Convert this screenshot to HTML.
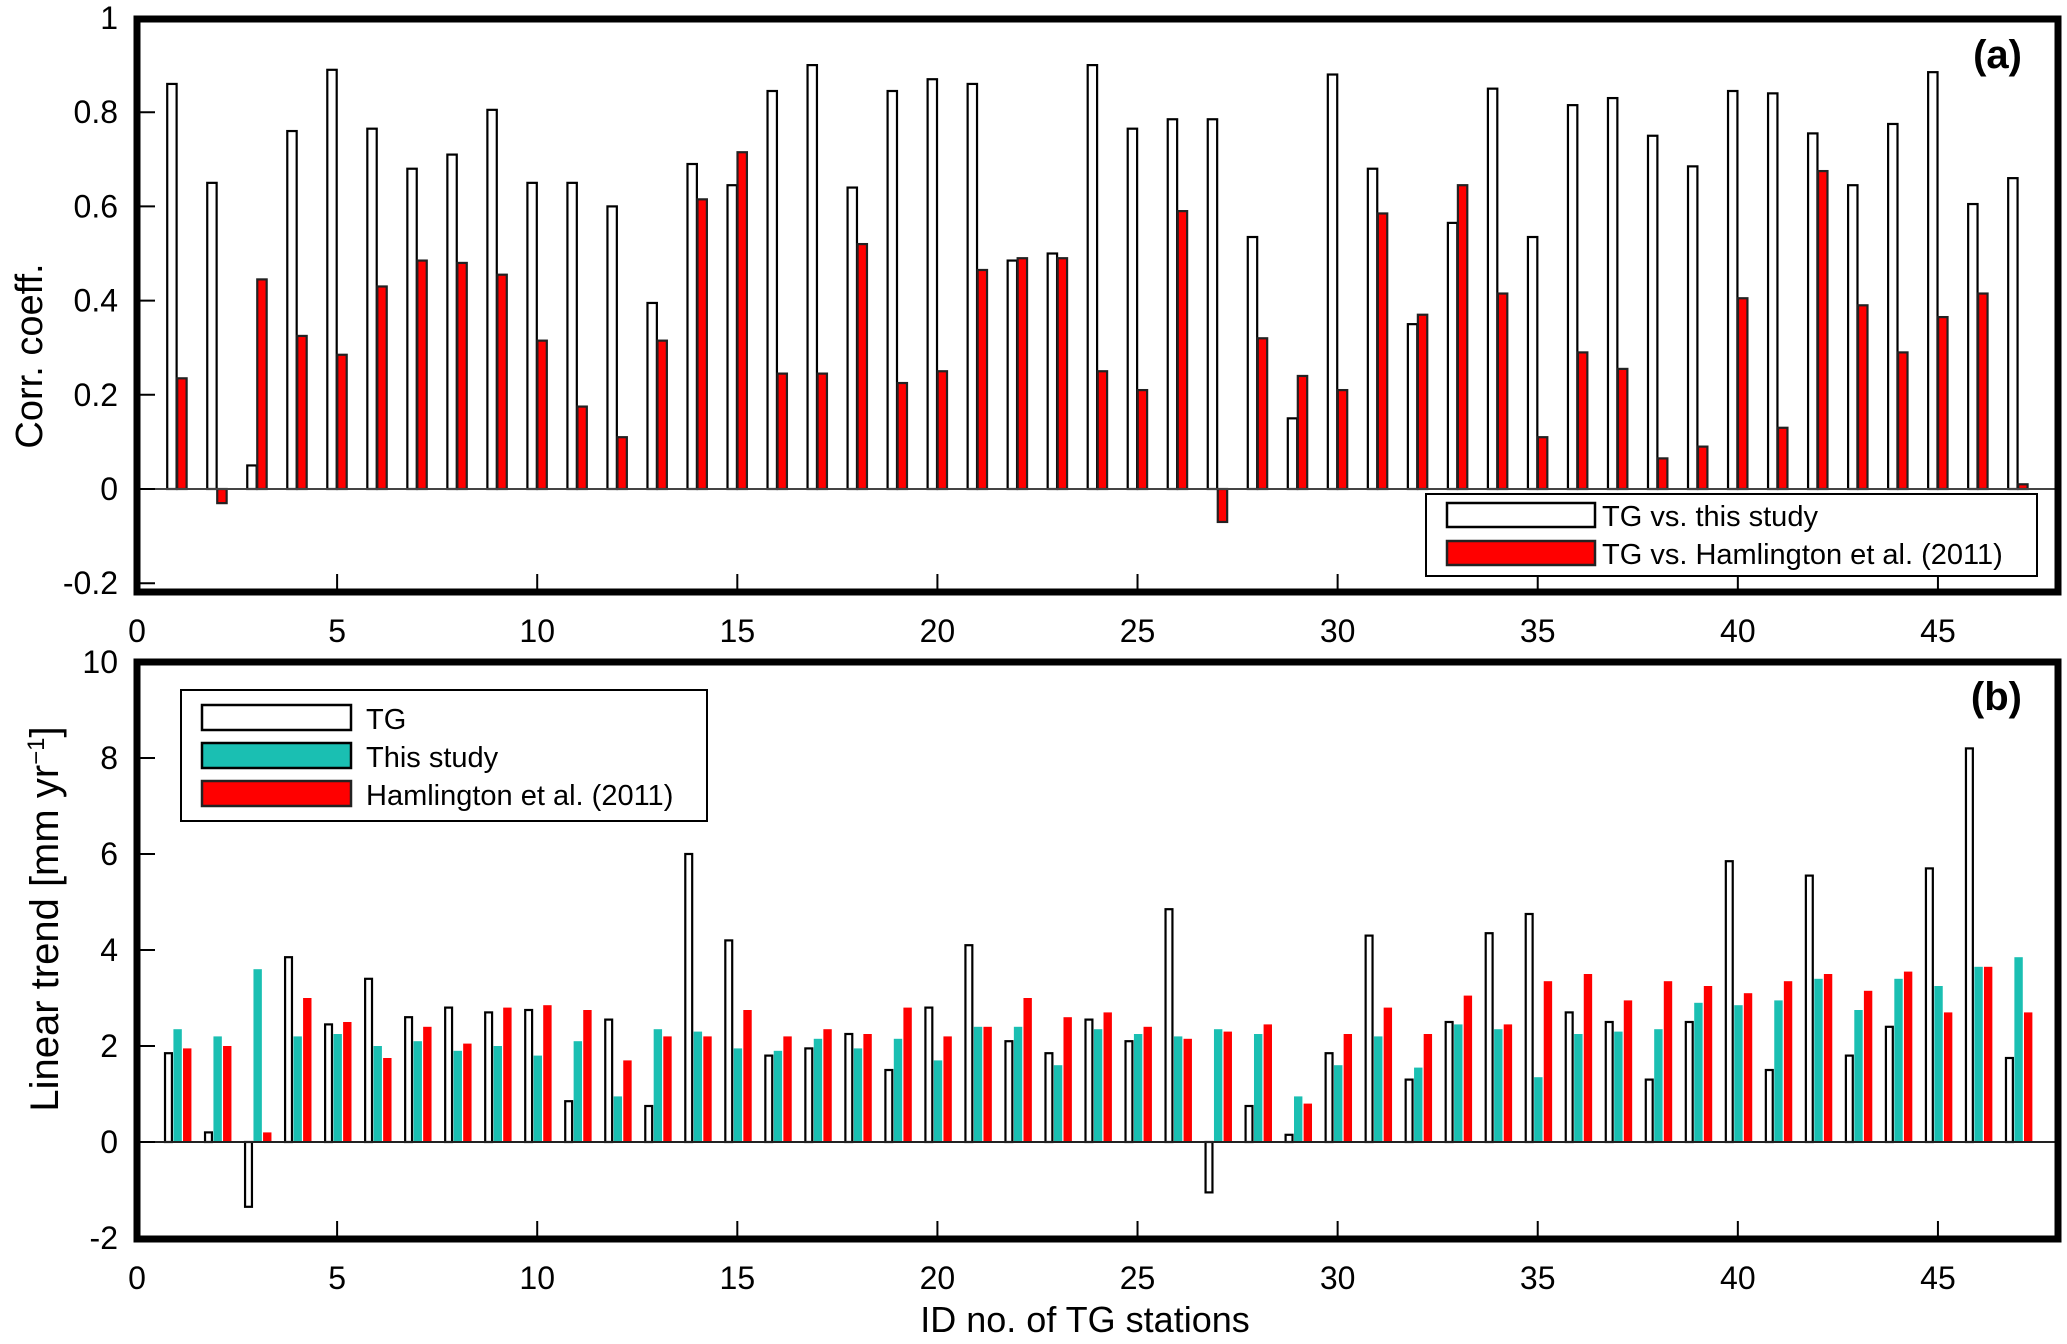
<!DOCTYPE html>
<html><head><meta charset="utf-8"><style>
html,body{margin:0;padding:0;background:#fff;}
svg{display:block;font-family:"Liberation Sans",Arial,sans-serif;}
</style></head><body>
<svg id="chart" width="2067" height="1344" viewBox="0 0 2067 1344">
<g id="pa"></g>
<g id="pb"></g>
</svg>
<script>
const stations = Array.from({length:47},(_,i)=>i+1);
const corrThisStudy = [0.86,0.65,0.05,0.76,0.89,0.765,0.68,0.71,0.805,0.65,0.65,0.60,0.395,0.69,0.645,0.845,0.90,0.64,0.845,0.87,0.86,0.485,0.50,0.90,0.765,0.785,0.785,0.535,0.15,0.88,0.68,0.35,0.565,0.85,0.535,0.815,0.83,0.75,0.685,0.845,0.84,0.755,0.645,0.775,0.885,0.605,0.66];
const corrHamlington = [0.235,-0.03,0.445,0.325,0.285,0.43,0.485,0.48,0.455,0.315,0.175,0.11,0.315,0.615,0.715,0.245,0.245,0.52,0.225,0.25,0.465,0.49,0.49,0.25,0.21,0.59,-0.07,0.32,0.24,0.21,0.585,0.37,0.645,0.415,0.11,0.29,0.255,0.065,0.09,0.405,0.13,0.675,0.39,0.29,0.365,0.415,0.01];
const trendTG = [1.85,0.2,-1.35,3.85,2.45,3.4,2.6,2.8,2.7,2.75,0.85,2.55,0.75,6.0,4.2,1.8,1.95,2.25,1.5,2.8,4.1,2.1,1.85,2.55,2.1,4.85,-1.05,0.75,0.15,1.85,4.3,1.3,2.5,4.35,4.75,2.7,2.5,1.3,2.5,5.85,1.5,5.55,1.8,2.4,5.7,8.2,1.75];
const trendThisStudy = [2.35,2.2,3.6,2.2,2.25,2.0,2.1,1.9,2.0,1.8,2.1,0.95,2.35,2.3,1.95,1.9,2.15,1.95,2.15,1.7,2.4,2.4,1.6,2.35,2.25,2.2,2.35,2.25,0.95,1.6,2.2,1.55,2.45,2.35,1.35,2.25,2.3,2.35,2.9,2.85,2.95,3.4,2.75,3.4,3.25,3.65,3.85];
const trendHamlington = [1.95,2.0,0.2,3.0,2.5,1.75,2.4,2.05,2.8,2.85,2.75,1.7,2.2,2.2,2.75,2.2,2.35,2.25,2.8,2.2,2.4,3.0,2.6,2.7,2.4,2.15,2.3,2.45,0.8,2.25,2.8,2.25,3.05,2.45,3.35,3.5,2.95,3.35,3.25,3.1,3.35,3.5,3.15,3.55,2.7,3.65,2.7];
const xTicks = [0,5,10,15,20,25,30,35,40,45];
const yTicksA = [-0.2,0,0.2,0.4,0.6,0.8,1];
const yTicksAL = ["-0.2","0","0.2","0.4","0.6","0.8","1"];
const yTicksB = [-2,0,2,4,6,8,10];

const NS="http://www.w3.org/2000/svg";
function mk(parent,tag,attrs,text){const e=document.createElementNS(NS,tag);for(const k in attrs)e.setAttribute(k,attrs[k]);if(text!==undefined)e.textContent=text;parent.appendChild(e);return e;}
const X0=137,X1=2058,xs=v=>X0+(v/48)*(X1-X0);
const yA=v=>489-v*471;
const yB=v=>1142-v*48;
const pa=document.getElementById('pa'), pb=document.getElementById('pb');

function bar(g,x,w,y0,y1,fill,stroke,name){
  const r=mk(g,'rect',{x:x,y:Math.min(y0,y1),width:w,height:Math.max(1,Math.abs(y1-y0)),fill:fill,stroke:stroke,'stroke-width':2.2});
  
  
}
const bwA=0.235*40;
stations.forEach((s,i)=>{
  bar(pa,xs(s-0.245),bwA,yA(0),yA(corrThisStudy[i]),'#fff','#000','bar-a-this-study');
  bar(pa,xs(s+0.005),bwA,yA(0),yA(corrHamlington[i]),'#ff0000','#222','bar-a-hamlington');
});
mk(pa,'line',{x1:X0,x2:X1,y1:yA(0),y2:yA(0),stroke:'#444','stroke-width':2});
const bwB=0.21*40;
stations.forEach((s,i)=>{
  bar(pb,xs(s-0.3),bwB-1.5,yB(0),yB(trendTG[i]),'#fff','#000','bar-b-tg');
  bar(pb,xs(s-0.09),bwB,yB(0),yB(trendThisStudy[i]),'#1abfb2','none','bar-b-this-study');
  bar(pb,xs(s+0.15),bwB,yB(0),yB(trendHamlington[i]),'#ff0000','none','bar-b-hamlington');
});
mk(pb,'line',{x1:X0,x2:X1,y1:yB(0),y2:yB(0),stroke:'#222','stroke-width':2});

function axes(g,top,bot,yfun,yt,ytl,tag){
  yt.forEach((v,i)=>{
    const t=mk(g,'text',{x:118,y:yfun(v)+11,'text-anchor':'end','font-size':32},ytl[i]);
    
    mk(g,'line',{x1:X0,x2:X0+18,y1:yfun(v),y2:yfun(v),stroke:'#000','stroke-width':2});
  });
  xTicks.forEach(v=>{
    mk(g,'line',{x1:xs(v),x2:xs(v),y1:bot,y2:bot-18,stroke:'#000','stroke-width':2});
    const t=mk(g,'text',{x:xs(v),y:bot+50,'text-anchor':'middle','font-size':32},String(v));
    
  });
  const f=mk(g,'rect',{x:X0,y:top,width:X1-X0,height:bot-top,fill:'none',stroke:'#000','stroke-width':7});
  
}
axes(pa,19,592,yA,yTicksA,yTicksAL,'a');
axes(pb,662,1239,yB,yTicksB,yTicksB.map(String),'b');

let t=mk(pa,'text',{x:42,y:356,'font-size':38,transform:'rotate(-90 42 356)','text-anchor':'middle'},'Corr. coeff.');

t=mk(pb,'text',{x:58,y:919,'font-size':40,transform:'rotate(-90 58 919)','text-anchor':'middle'});

t.innerHTML='Linear trend [mm yr<tspan dy="-14" font-size="24">−1</tspan><tspan dy="14">]</tspan>';
t=mk(pb,'text',{x:1085,y:1332,'font-size':36,'text-anchor':'middle'},'ID no. of TG stations');

t=mk(pa,'text',{x:2022,y:68,'font-size':40,'font-weight':'bold','text-anchor':'end'},'(a)');

t=mk(pb,'text',{x:2022,y:710,'font-size':40,'font-weight':'bold','text-anchor':'end'},'(b)');


const la=mk(pa,'g',{});


mk(la,'rect',{x:1426,y:494,width:611,height:82,fill:'#fff',stroke:'#000','stroke-width':2});
mk(la,'rect',{x:1447,y:503,width:148,height:24,fill:'#fff',stroke:'#000','stroke-width':2.5});
mk(la,'rect',{x:1447,y:541,width:148,height:24,fill:'#ff0000',stroke:'#222','stroke-width':2.5});
mk(la,'text',{x:1602,y:526,'font-size':29},'TG vs. this study');
mk(la,'text',{x:1602,y:564,'font-size':29},'TG vs. Hamlington et al. (2011)');
const lb=mk(pb,'g',{});


mk(lb,'rect',{x:181,y:690,width:526,height:131,fill:'#fff',stroke:'#000','stroke-width':2});
mk(lb,'rect',{x:202,y:705,width:149,height:25,fill:'#fff',stroke:'#000','stroke-width':2.5});
mk(lb,'rect',{x:202,y:743,width:149,height:25,fill:'#1abfb2',stroke:'#000','stroke-width':2.5});
mk(lb,'rect',{x:202,y:781,width:149,height:25,fill:'#ff0000',stroke:'#222','stroke-width':2.5});
mk(lb,'text',{x:366,y:729,'font-size':29},'TG');
mk(lb,'text',{x:366,y:767,'font-size':29},'This  study');
mk(lb,'text',{x:366,y:805,'font-size':29},'Hamlington et al. (2011)');
</script>
</body></html>
